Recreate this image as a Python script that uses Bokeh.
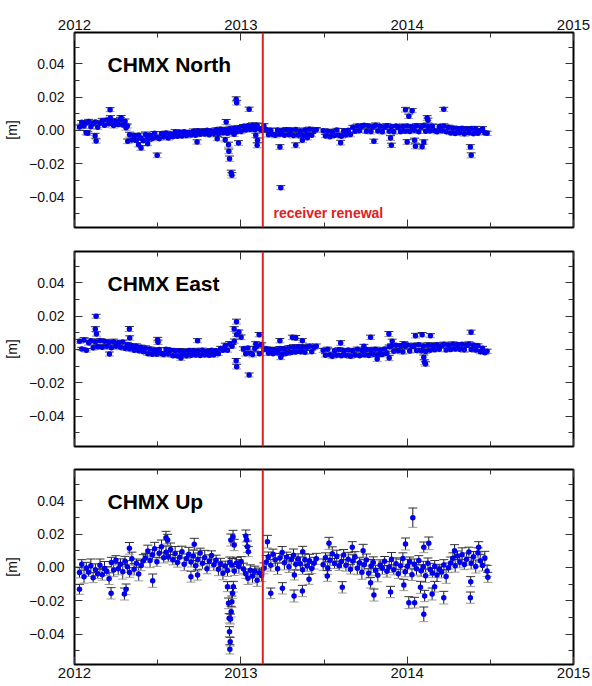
import numpy as np
from bokeh.plotting import figure
from bokeh.models import (Range1d, LinearAxis, FixedTicker, CustomJSTickFormatter,
                          Span, Label, ColumnDataSource)
from bokeh.layouts import column
from bokeh.embed import file_html
from bokeh.resources import INLINE

# ------------------------------------------------------------------
# Data: CHMX daily GNSS coordinate residuals
# (values in mm, one sample every 5 days per segment, plus outliers)
# ------------------------------------------------------------------
STEP_DAYS = 5
SEG1_START = 2012.03     # first epoch before the data gap
SEG2_START = 2013.495    # first epoch after the data gap
RENEWAL_EPOCH = 2013.132 # receiver renewal

X_TICKS = [2012, 2013, 2014, 2015]
X_MINOR = [2012.5, 2013.5, 2014.5]
Y_TICKS = [-0.04, -0.02, 0.0, 0.02, 0.04]
Y_MINOR = [-0.05, -0.03, -0.01, 0.01, 0.03, 0.05]

NORTH_1 = [2.0, 4.9, 2.6, 4.4, 5.3, 2.2, 3.9, 5.0, 1.9, 4.3,
           5.8, 3.0, 6.2, 4.0, 5.9, 2.9, 5.6, 3.5, 6.4, 3.2, 5.5, 2.6,
           -2.6, -5.8, -3.1, -6.0, -2.9, -4.8, -6.2, -2.5, -5.1, -3.0,
           -4.9, -1.8, -4.2, -5.0, -2.0, -3.9, -1.6, -4.6, -2.2, -3.8,
           -1.0, -3.6, -1.2, -3.4, -0.9, -3.1, -1.3, -2.8, -0.6, -2.9,
           -0.3, -2.4, -0.5, -2.2, 0.1, -2.6, -0.4, -1.9, 0.3, -2.1,
           0.6, -1.5, 0.2, -1.8, 1.0, -1.2, 1.2, -0.9, 1.6, -0.7,
           2.4, 0.2, 2.8, 0.5, 3.0, 0.3, 3.1, 1.0, -0.1, 2.6,
           0.3, -2.7, 0.1, -2.5, -3.0, 0.2, -2.4, -0.3, -2.9, 0.4,
           -2.6, 0.0, -3.1, 0.5, -2.8, -0.4, -3.2, 0.2, -2.3, 0.6, -2.9, -0.1, 0.3]
NORTH_2 = [-0.3, -3.4, -0.6, -3.9, -1.0, -3.1, 0.2, -2.9, -3.6, -0.4, -2.8, 0.1, -2.5,
           1.9, -0.6, 2.6, -0.3, 2.4, 3.0, -0.5, 2.6, -0.7, 2.2, 3.1, -0.4, 2.5, -0.8,
           2.0, 2.7, -0.5, 2.1, -0.9, 2.6, 1.9, -0.8, 2.3,
           -0.6, 2.6, -0.7, 2.2, 0.1, 2.8, -0.9, 2.0, 2.9, -0.6, 2.3, -0.4, 2.5, -0.3,
           -0.9, 2.2, -0.2, 2.6, -0.8, 1.9,
           -1.6, 1.2, -1.9, 1.0, -1.5, 1.3, -2.0, 0.9, -1.4, 1.1, -2.1, 1.0, -1.7, -0.2,
           1.0, -1.5, -1.8]
# (epoch, value mm, sigma mm)
NORTH_OUT = [(2012.07, -1.4, 1.3), (2012.08, -1.8, 1.2), (2012.124, -3.2, 1.4), (2012.13, -6.4, 1.3),
             (2012.214, 12.4, 1.2), (2012.216, 7.4, 1.4), (2012.28, 7.6, 1.3), (2012.31, 1.6, 1.5),
             (2012.32, -6.6, 1.4), (2012.385, -8.6, 1.3), (2012.40, -10.6, 1.4), (2012.44, -8.0, 1.2),
             (2012.497, -15.0, 1.4), (2012.737, -7.0, 1.3), (2012.858, -5.0, 1.2), (2012.912, 5.0, 1.5),
             (2012.906, -5.6, 1.4), (2012.926, -8.6, 1.5), (2012.928, -12.6, 1.4), (2012.932, -17.0, 1.6),
             (2012.942, -25.4, 1.5), (2012.946, -27.0, 1.6), (2012.972, 18.6, 1.5), (2012.975, 16.6, 1.4),
             (2012.96, -2.4, 1.3), (2012.986, -7.6, 1.4), (2013.05, 12.6, 1.3), (2013.098, -9.0, 1.5),
             (2013.10, -6.0, 1.4), (2013.09, -3.0, 1.3), (2013.235, -10.0, 1.4), (2013.24, -34.4, 1.2),
             (2013.33, -9.0, 1.5), (2013.37, -6.0, 1.4), (2013.40, -4.5, 1.3), (2013.60, -7.4, 1.4),
             (2013.80, -6.6, 1.3), (2013.90, -4.6, 1.4), (2013.905, -9.0, 1.3), (2013.99, 12.4, 1.4),
             (2014.01, 8.4, 1.3), (2014.03, 11.8, 1.2), (2014.00, -7.0, 1.4), (2014.045, -6.0, 1.3),
             (2014.05, -9.6, 1.5), (2014.09, -9.8, 1.4), (2014.10, -7.0, 1.3), (2014.12, 7.4, 1.4),
             (2014.125, 6.0, 1.3), (2014.22, 12.6, 1.2), (2014.38, -10.0, 1.4), (2014.385, -15.0, 1.5)]

EAST_1 = [4.8, 0.2, 5.6, -0.6, 3.9, 5.1, 1.0, 4.6, 1.5, 5.3,
          1.3, 4.8, 1.8, 4.2, 1.0, 4.6, 1.9, 4.0, 1.2, 4.4,
          0.6, 2.9, 0.3, 2.2, -0.6, 1.9, -0.8, 1.2, -1.5, 0.6,
          -2.6, 0.2, -3.0, -0.4, -2.9, -0.1, -2.5, -3.1, 0.0, -2.8,
          -0.6, -3.8, -0.9, -4.0, -0.8, -3.5, -1.2, -3.9, -0.7, -3.6,
          -0.8, -3.4, -1.0, -3.7, -0.5, -3.2, -1.1, -3.6, -0.6, -3.3,
          -0.9, -2.6, 0.5, -0.6, 2.3, -0.5, 3.2, 1.8, 4.9, 8.8, 10.4, 7.2,
          0.4, -2.7, 0.8, -2.4, -3.1, 0.5, 1.8, -2.6, 2.9, -0.1,
          0.4, -2.3, -0.1, -2.6, -0.2, -2.0, 0.5, -2.9, 0.3, -2.4,
          1.1, -1.9, 1.3, -1.6, 1.6, -1.4, 1.4, -1.8, 1.2, 1.9, -1.5, 1.3, 1.8]
EAST_2 = [-0.6, -3.6, 0.0, -3.3, -4.2, -0.9, -3.5, -0.3, -3.9, -1.0,
          -3.6, -0.4, -4.1, -0.8, -3.4, 0.1, -3.8, -0.7, -3.2, -0.2,
          -3.7, -0.5, -3.0, 0.0, -3.4, -0.6, -3.1, 0.2, -2.4,
          1.5, 2.0, -1.2, 2.4, -0.8, 2.1, -1.4, 1.9, 2.6, -1.0,
          1.8, 2.3, -0.7, 2.8, -0.9, 2.0, -1.3, 2.5, -0.5,
          2.3, -0.3, 2.8, 0.0, 2.2, 3.0, -0.4, 2.6, -0.1, 3.1,
          0.2, 2.7, 0.0, 3.0, -0.3, 2.5, 3.2, -0.1, 2.6, -0.4,
          2.2, -1.4, 0.6, -2.0, -1.2]
EAST_OUT = [(2012.13, 19.8, 1.2), (2012.125, 12.2, 1.4), (2012.132, 9.2, 1.3), (2012.21, -2.8, 1.2),
            (2012.33, 12.2, 1.5), (2012.332, 6.8, 1.3), (2012.50, 5.8, 1.4), (2012.502, 4.2, 1.3),
            (2012.74, 5.2, 1.2), (2012.64, -5.2, 1.4), (2012.974, 16.6, 1.5), (2012.96, 12.2, 1.4),
            (2012.972, -6.8, 1.3), (2012.975, -10.4, 1.4), (2013.05, -15.4, 1.2), (2013.11, 8.8, 1.3),
            (2013.09, 3.2, 1.4), (2013.235, 5.2, 1.3), (2013.24, -4.8, 1.4), (2013.33, 6.8, 1.5),
            (2013.31, 7.2, 1.3), (2013.37, 5.2, 1.2), (2013.60, 3.8, 1.4), (2013.78, 7.2, 1.3),
            (2013.74, 1.8, 1.2), (2013.82, -5.8, 1.4), (2013.89, 9.2, 1.5), (2013.892, -5.2, 1.6),
            (2013.91, 4.8, 1.3), (2014.05, 8.2, 1.4), (2014.09, 8.8, 1.3), (2014.14, 8.2, 1.2),
            (2014.10, -4.8, 1.4), (2014.105, -7.8, 1.5), (2014.11, -8.8, 1.3), (2013.98, 3.2, 1.4),
            (2014.384, 10.2, 1.3)]

UP_1 = [-3.1, 1.8, -5.6, -0.4, -2.9, 0.9, -6.2, -1.5, -3.8, 1.2,
        -4.4, -0.7, -2.3, -6.8, 2.9, -1.6, 4.2, -0.8, 1.9, -2.7,
        3.6, 0.4, -3.1, 5.2, -1.2, 2.4, -4.0, 1.1, 3.9, 5.6,
        9.8, 4.1, 7.6, 11.2, 3.3, 8.5, 12.4, 5.8, 9.1, 6.2,
        10.7, 4.6, 8.3, 2.9, 6.1, 9.4, 1.8, 5.3, 7.9, 3.2,
        6.8, 0.9, 4.7, 8.6, 2.4, 5.9, -0.8, 3.8, 7.1, 1.5,
        4.3, -1.2, 2.1, -3.5, 0.8, -1.9, 3.0, 1.4, -2.2, 2.6,
        0.5, 3.4, -1.0, -3.8, -6.5, -1.7, -5.2, -2.4, -7.8, -3.3,
        -4.9, -0.6, 3.1, 6.4, 1.2, 7.8, 4.5, -0.9, 5.6, 8.9,
        2.7, 6.1, 0.4, 4.8, 7.2, 1.9, 5.0, 2.2, -1.4, 4.6,
        0.8, 3.9, -0.7, 2.5, 5.1]
UP_2 = [1.6, 5.8, -0.4, 4.2, 8.1, 2.3, 6.7, 0.9, 3.5, 7.4,
        1.2, 4.9, -1.1, 3.8, 6.2, -0.6, 2.7, -2.9, 1.5, 4.4,
        -3.6, 0.8, 2.9, -1.8, -4.7, 1.3, -0.5, 3.6, -2.4, 0.2,
        4.8, -1.5, 2.1, -3.9, 1.0, 5.3, -2.6, 0.6, 3.2, -4.4,
        1.8, -0.9, 4.1, -2.0, 0.3, -5.1, 2.5, -1.3, -3.4, 0.7,
        -4.6, -1.2, -2.8, 1.4, -5.5, -0.3, 2.6, 5.4, 0.9, 6.8,
        3.1, 7.5, 1.7, 4.9, 9.2, 2.4, 6.3, 0.5, 8.7, 4.0, 1.1, 5.6, -2.2]
UP_OUT = [(2012.03, -13.2, 3.0), (2012.22, -15.6, 3.4), (2012.30, -16.0, 3.6), (2012.31, -13.2, 3.2),
          (2012.33, 11.4, 3.5), (2012.55, 17.8, 3.8), (2012.56, 16.4, 3.4), (2012.47, -8.0, 4.0),
          (2012.72, 13.8, 3.6), (2012.70, -5.6, 3.3), (2012.74, -4.6, 3.1), (2012.92, -11.6, 3.0),
          (2012.926, -21.6, 3.2), (2012.93, -30.6, 2.8), (2012.932, -38.6, 3.0), (2012.936, -44.6, 2.6),
          (2012.934, -49.2, 2.8), (2012.938, -31.0, 3.0), (2012.942, -26.6, 3.2), (2012.946, -20.6, 3.4),
          (2012.95, -15.6, 3.0), (2012.955, -11.6, 3.2), (2012.94, 16.4, 3.6), (2012.953, 18.4, 3.8),
          (2012.96, 13.4, 3.4), (2013.03, 18.8, 3.6), (2013.035, 16.4, 3.2), (2013.04, 12.4, 3.4),
          (2013.045, 9.4, 3.0), (2013.16, 15.4, 3.8), (2013.18, -15.6, 3.2), (2013.25, -12.6, 3.4),
          (2013.32, -17.2, 3.6), (2013.322, -4.6, 3.0), (2013.37, -14.2, 3.4), (2013.372, 9.4, 3.2),
          (2013.41, -7.2, 3.0), (2013.53, 14.4, 3.6), (2013.61, -12.0, 3.4), (2013.52, -5.2, 3.2),
          (2013.80, -16.6, 3.6), (2013.90, -14.8, 3.4), (2013.78, -9.2, 3.2), (2013.735, 10.0, 3.8),
          (2013.67, 12.0, 3.4), (2014.034, 29.8, 5.8), (2013.99, 14.0, 3.6), (2014.01, -21.2, 3.6),
          (2014.045, -21.2, 3.2), (2014.10, -28.2, 4.4), (2014.08, -12.0, 3.6), (2014.105, -17.2, 3.4),
          (2014.13, 14.4, 3.8), (2014.10, 12.0, 3.2), (2013.98, -10.6, 3.4), (2014.15, -16.0, 3.6),
          (2014.22, -18.2, 3.8), (2014.165, -11.6, 3.2), (2014.38, -18.2, 3.4), (2014.382, -8.6, 3.0),
          (2014.43, 12.0, 3.4), (2014.485, -6.0, 3.0), (2014.285, 10.0, 3.6)]

# formal sigmas (mm) for the regular samples
NE_ERR_1 = [1.2, 1.0, 1.4, 1.1, 1.3, 1.2, 1.5, 1.0, 1.3, 1.1,
            1.4, 1.2, 1.0, 1.3, 1.1, 1.5, 1.2, 1.0, 1.4, 1.1,
            1.3, 1.2, 1.5, 1.1, 1.0, 1.4, 1.2, 1.3, 1.1, 1.5,
            1.0, 1.2, 1.4, 1.1, 1.3, 1.0, 1.2, 1.5, 1.1, 1.3,
            1.2, 1.0, 1.4, 1.1, 1.3, 1.2, 1.0, 1.5, 1.1, 1.2,
            1.4, 1.0, 1.3, 1.1, 1.2, 1.5, 1.0, 1.3, 1.1, 1.4,
            1.2, 1.1, 1.3, 1.0, 1.4, 1.2, 1.5, 1.1, 1.3, 1.0,
            1.2, 1.4, 1.1, 1.3, 1.0, 1.2, 1.5, 1.1, 1.3, 1.2,
            1.0, 1.4, 1.1, 1.3, 1.2, 1.0, 1.5, 1.1, 1.2, 1.4,
            1.0, 1.3, 1.1, 1.2, 1.5, 1.0, 1.3, 1.1, 1.4, 1.2,
            1.1, 1.3, 1.0, 1.2, 1.4]
NE_ERR_2 = [1.2, 1.0, 1.3, 1.1, 1.4, 1.2, 1.0, 1.3, 1.1, 1.5,
            1.2, 1.0, 1.4, 1.1, 1.3, 1.2, 1.0, 1.3, 1.1, 1.4,
            1.2, 1.5, 1.0, 1.3, 1.1, 1.2, 1.4, 1.0, 1.3, 1.1,
            1.2, 1.4, 1.0, 1.3, 1.1, 1.5, 1.2, 1.0, 1.3, 1.1,
            1.4, 1.2, 1.0, 1.3, 1.1, 1.2, 1.5, 1.0, 1.3, 1.1,
            1.2, 1.4, 1.0, 1.3, 1.1, 1.2, 1.0, 1.4, 1.1, 1.3,
            1.2, 1.0, 1.5, 1.1, 1.3, 1.2, 1.0, 1.4, 1.1, 1.3,
            1.2, 1.0, 1.3]
UP_ERR_1 = [3.2, 2.8, 3.9, 3.4, 2.6, 4.1, 3.0, 3.6, 2.9, 3.8,
            3.3, 4.2, 2.7, 3.5, 3.1, 4.0, 2.8, 3.7, 3.2, 4.4,
            3.0, 3.6, 2.9, 3.9, 3.4, 2.6, 4.1, 3.1, 3.7, 2.8,
            3.5, 4.3, 3.0, 3.8, 2.7, 3.4, 4.0, 3.2, 3.6, 2.9,
            3.9, 3.1, 4.2, 2.8, 3.5, 3.3, 3.8, 2.7, 4.1, 3.0,
            3.6, 3.2, 3.9, 2.9, 3.4, 4.3, 3.1, 3.7, 2.8, 3.5,
            3.0, 3.8, 3.3, 4.0, 2.9, 3.6, 3.2, 3.9, 2.7, 3.4,
            4.1, 3.0, 3.5, 2.8, 3.8, 3.2, 4.2, 3.1, 3.6, 2.9,
            3.7, 3.3, 4.0, 2.8, 3.5, 3.1, 3.9, 3.4, 2.7, 3.6,
            4.2, 3.0, 3.5, 2.9, 3.8, 3.3, 3.1, 4.0, 2.8, 3.6,
            3.2, 3.9, 3.0, 3.5, 3.3]
UP_ERR_2 = [3.4, 2.9, 3.8, 3.1, 4.2, 3.0, 3.6, 2.8, 3.9, 3.3,
            3.5, 4.1, 2.9, 3.7, 3.2, 3.8, 3.0, 4.3, 3.1, 3.6,
            2.8, 3.9, 3.4, 3.0, 4.0, 3.2, 3.7, 2.9, 3.5, 3.3,
            4.1, 3.0, 3.6, 2.8, 3.9, 3.4, 3.1, 4.2, 3.0, 3.5,
            3.2, 3.8, 2.9, 3.6, 3.3, 4.0, 3.1, 3.7, 2.8, 3.4,
            3.9, 3.0, 3.5, 3.2, 4.1, 2.9, 3.6, 3.3, 3.8, 3.0,
            3.4, 4.2, 3.1, 3.7, 2.9, 3.5, 3.2, 3.9, 3.0, 3.6,
            3.3, 4.0, 3.4]

# ------------------------------------------------------------------
FONT = "Liberation Sans"
FRAME_W, FRAME_H = 499, 195
BORDER_L, BORDER_R = 74, 19


def make_source(v1, v2, e1, e2, outliers):
    step = STEP_DAYS / 365.25
    t1 = SEG1_START + np.arange(len(v1)) * step
    t2 = SEG2_START + np.arange(len(v2)) * step
    to = np.array([o[0] for o in outliers])
    vo = np.array([o[1] for o in outliers])
    eo = np.array([o[2] for o in outliers])
    t = np.concatenate([t1, t2, to])
    v = np.concatenate([np.array(v1), np.array(v2), vo]) / 1000.0
    e = np.concatenate([np.array(e1), np.array(e2), eo]) / 1000.0
    return ColumnDataSource(dict(t=t, v=v, lo=v - e, hi=v + e))


def style_axis(ax, show_labels, standoff, fsize):
    ax.axis_line_color = None
    ax.major_tick_in = 8
    ax.major_tick_out = 0
    ax.minor_tick_in = 5
    ax.minor_tick_out = 0
    ax.major_tick_line_color = "#333333"
    ax.minor_tick_line_color = "#333333"
    ax.major_label_text_font = FONT
    ax.major_label_text_color = "#111111"
    if show_labels:
        ax.major_label_text_font_size = fsize
        ax.major_label_standoff = standoff
    else:
        ax.major_label_text_font_size = "0px"
        ax.major_label_standoff = 0
        ax.formatter = CustomJSTickFormatter(code="return '';")


def x_axis(show):
    ax = LinearAxis(ticker=FixedTicker(ticks=X_TICKS, minor_ticks=X_MINOR),
                    formatter=CustomJSTickFormatter(code="return tick.toFixed(0);"))
    style_axis(ax, show, 3, "15px")
    return ax


def y_axis(show):
    ax = LinearAxis(ticker=FixedTicker(ticks=Y_TICKS, minor_ticks=Y_MINOR),
                    formatter=CustomJSTickFormatter(
                        code="return (tick < -1e-9 ? '\\u2212' : '') + Math.abs(tick).toFixed(2);"))
    style_axis(ax, show, 10, "14px")
    if show:
        ax.axis_label = "[m]"
        ax.axis_label_standoff = 6
        ax.axis_label_text_font = FONT
        ax.axis_label_text_font_size = "14px"
        ax.axis_label_text_font_style = "normal"
        ax.axis_label_text_color = "#111111"
    return ax


def make_panel(title, src, top_labels, bottom_labels, b_top, b_bottom, renewal_text=False):
    p = figure(frame_width=FRAME_W, frame_height=FRAME_H,
               x_range=Range1d(2012, 2015), y_range=Range1d(-0.0583, 0.0587),
               x_axis_location=None, y_axis_location=None,
               output_backend="svg", toolbar_location=None,
               min_border_left=BORDER_L, min_border_right=BORDER_R,
               min_border_top=b_top, min_border_bottom=b_bottom)
    p.grid.grid_line_color = None
    p.outline_line_color = "#000000"
    p.outline_line_width = 2
    p.background_fill_color = "white"
    p.border_fill_color = "white"

    p.add_layout(y_axis(True), "left")
    p.add_layout(y_axis(False), "right")
    p.add_layout(x_axis(top_labels), "above")
    p.add_layout(x_axis(bottom_labels), "below")

    # error bars, caps and points
    p.segment(x0="t", y0="lo", x1="t", y1="hi", source=src, line_color="#1a1a1a", line_width=1)
    p.scatter(x="t", y="lo", marker="dash", size=9, line_color="#9a9a9a", line_width=1, source=src)
    p.scatter(x="t", y="hi", marker="dash", size=9, line_color="#333333", line_width=1, source=src)
    p.scatter(x="t", y="v", marker="circle", size=5.5, fill_color="#0000ee",
              line_color=None, source=src)

    p.add_layout(Span(location=RENEWAL_EPOCH, dimension="height",
                      line_color="#e02020", line_width=2))
    p.add_layout(Label(x=33, y=FRAME_H - 32, x_units="screen", y_units="screen",
                       text=title, text_font=FONT, text_font_size="21px",
                       text_font_style="bold", text_color="#000000",
                       text_baseline="alphabetic"))
    if renewal_text:
        p.add_layout(Label(x=199, y=15, x_units="screen", y_units="screen",
                           text="receiver renewal", text_font=FONT, text_font_size="14px",
                           text_font_style="bold", text_color="#e02020",
                           text_baseline="alphabetic"))
    return p


src_n = make_source(NORTH_1, NORTH_2, NE_ERR_1, NE_ERR_2, NORTH_OUT)
src_e = make_source(EAST_1, EAST_2, NE_ERR_1, NE_ERR_2, EAST_OUT)
src_u = make_source(UP_1, UP_2, UP_ERR_1, UP_ERR_2, UP_OUT)

# page is rendered without body margin: frames sit at y = 32, 251, 469
p1 = make_panel("CHMX North", src_n, True, False, 32, 12, renewal_text=True)
p2 = make_panel("CHMX East", src_e, False, False, 12, 11)
p3 = make_panel("CHMX Up", src_u, False, True, 12, 22)

layout = column(p1, p2, p3, spacing=0)
open("out.html", "w").write(file_html(layout, INLINE))
